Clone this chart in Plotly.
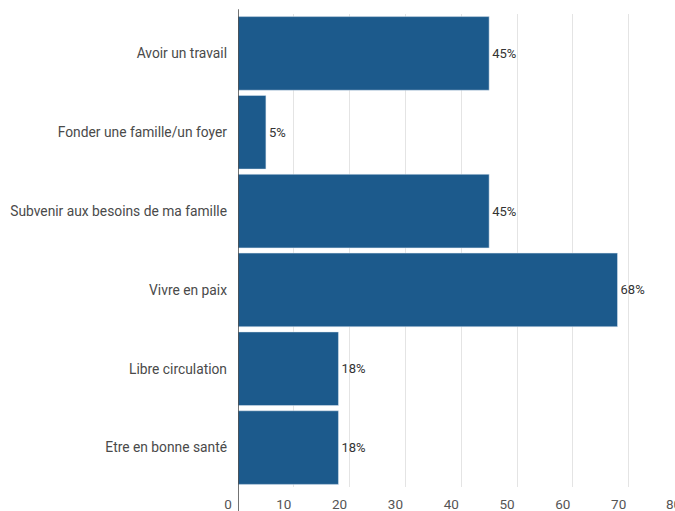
import plotly.graph_objects as go

categories = ["Avoir un travail", "Fonder une famille/un foyer", "Subvenir aux besoins de ma famille",
              "Vivre en paix", "Libre circulation", "Etre en bonne santé"]
values = [45, 5, 45, 68, 18, 18]
labels = ["45%", "5%", "45%", "68%", "18%", "18%"]
tick_vals = [0, 10, 20, 30, 40, 50, 60, 70]

fig = go.Figure(go.Bar(
    y=categories, x=values, orientation="h",
    marker=dict(color="#1c5a8c", line=dict(color="#dfe9f2", width=0.5)),
    text=labels, textposition="outside", cliponaxis=False,
    textfont=dict(family="Roboto", size=13, color="#333333"),
))

fig.update_layout(
    width=675, height=511,
    margin=dict(l=238, r=0, t=14, b=24),
    paper_bgcolor="white", plot_bgcolor="white",
    bargap=0.066, showlegend=False,
    font=dict(family="Roboto", size=12, color="#555555"),
)
fig.update_xaxes(range=[0, 78.3], tickvals=tick_vals, showgrid=True, gridcolor="#e4e4e4",
                 gridwidth=1, zeroline=False, ticklabelshift=-10, ticklabelstandoff=7,
                 tickfont=dict(size=13.5, color="#555555"))
fig.update_yaxes(autorange="reversed", showline=False, ticklabelstandoff=10,
                 tickfont=dict(size=13.8, color="#4a4a4a"))
fig.add_shape(type="line", xref="x", yref="paper", x0=0, x1=0, y0=1.01, y1=-0.06,
              line=dict(color="#444444", width=1.5))
fig.add_annotation(x=1, y=0, xref="paper", yref="paper", yshift=-7, xshift=-11,
                   xanchor="left", yanchor="top", text="80", showarrow=False,
                   font=dict(size=13.5, color="#555555"))
fig.write_html("out.html")
